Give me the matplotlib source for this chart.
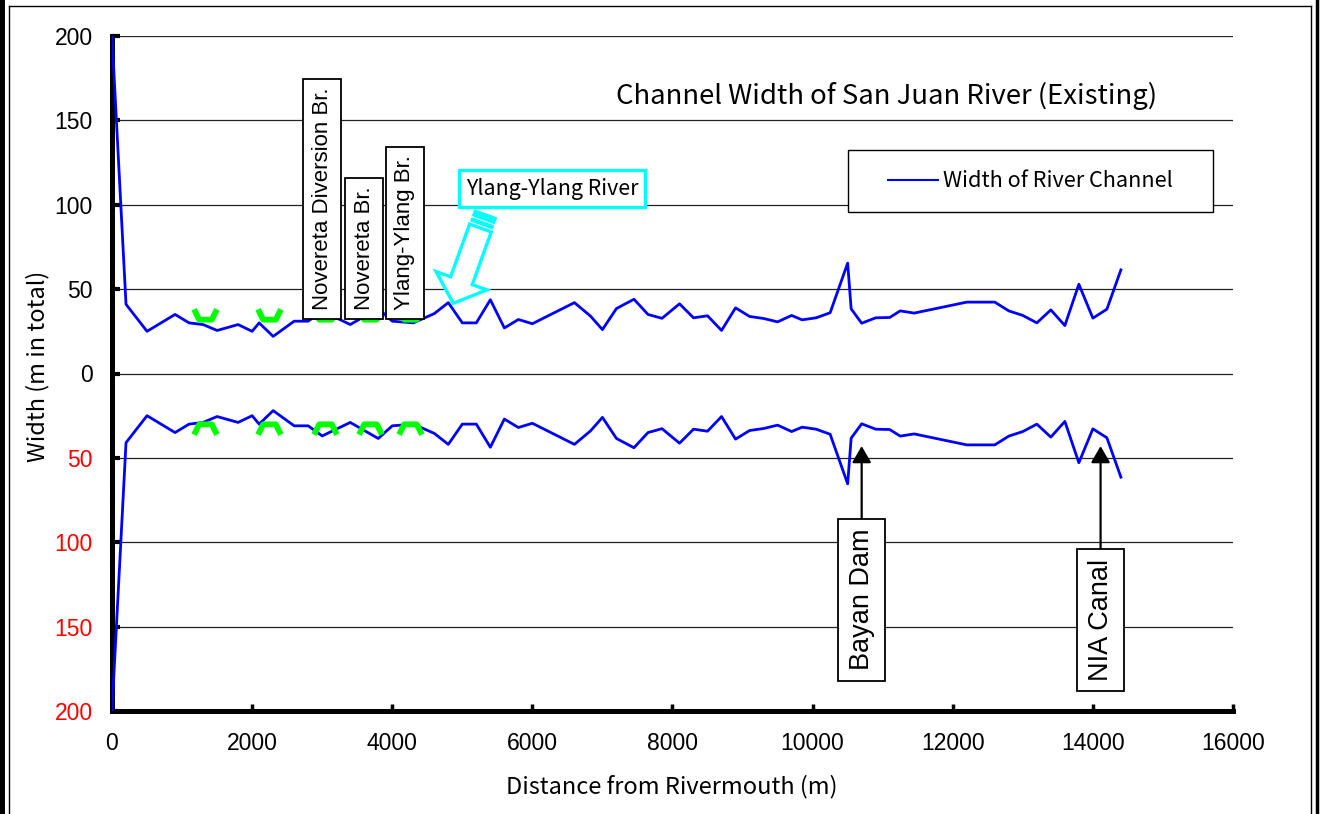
import numpy as np
import matplotlib
matplotlib.use("Agg")
import matplotlib.pyplot as plt
from matplotlib.path import Path
from matplotlib.patches import Rectangle, Polygon
from matplotlib.lines import Line2D

# ---------------- data ----------------
distance = [0, 200, 500, 700, 900, 1100, 1300, 1500, 1800, 2000, 2100, 2300, 2600, 2800,
            3000, 3400, 3800, 4000, 4300, 4600, 4800, 5000, 5200, 5400, 5600, 5800, 6000,
            6600, 6830, 7000, 7200, 7450, 7650, 7850, 8100, 8300, 8500, 8700, 8900, 9100,
            9300, 9500, 9700, 9850, 10050, 10250, 10500, 10550, 10700, 10900, 11100, 11250,
            11450, 12200, 12600, 12800, 13000, 13200, 13400, 13600, 13800, 14000, 14200, 14400]
half_width = [200, 41, 25, 30, 35, 30, 29, 25.5, 29, 25, 30, 22, 31, 31,
              37, 29, 38.5, 31, 30, 35.5, 42, 30, 30, 43.7, 27, 32, 29.5,
              42, 34, 26, 38.5, 44, 35, 32.7, 41.3, 33, 34.2, 25.5, 38.9, 33.8,
              32.6, 30.6, 34.4, 31.8, 33, 36, 65.4, 38.3, 29.8, 33, 33.2, 37.1,
              35.8, 42.3, 42.3, 37.1, 34.4, 30, 37.7, 28.4, 52.9, 32.8, 38.1, 61.4]

bridge_x = [1330, 2240, 3040, 3680, 4260]
bridge_upper = [35.5, 35.5, 35.5, 35.5, 35.5]
bridge_lower = [-33, -33, -33, -33, -33]

bridge_labels = ["Novereta Diversion Br.", "Novereta Br.", "Ylang-Ylang Br."]
bridge_label_x = [3000, 3600, 4180]

dam_labels = ["Bayan Dam", "NIA Canal"]
dam_x = [10700, 14110]
dam_tip_y = [-43, -43]
dam_box_y = [-134, -146]

yticks = [-200, -150, -100, -50, 0, 50, 100, 150, 200]
xticks = [0, 2000, 4000, 6000, 8000, 10000, 12000, 14000, 16000]

W, H = 1328, 814
fig = plt.figure(figsize=(W / 100, H / 100), dpi=100)
ax = fig.add_axes([112 / W, 1 - 711 / H, (1233 - 112) / W, (711 - 36) / H])

TICKFONT = "Liberation Sans"
JFONT = ["Noto Sans CJK JP", "DejaVu Sans"]

dist = np.array(distance)
hw = np.array(half_width)
ax.plot(dist, hw, color="#0000FF", lw=2.0, zorder=3, label="Width of River Channel")
ax.plot(dist, -hw, color="#0000FF", lw=2.0, zorder=3)

# bridge markers (green brackets)
u_path = Path([(-1, 0.45), (-0.55, -0.45), (0.55, -0.45), (1, 0.45)],
              [Path.MOVETO, Path.LINETO, Path.LINETO, Path.LINETO])
n_path = Path([(-1, -0.45), (-0.55, 0.45), (0.55, 0.45), (1, -0.45)],
              [Path.MOVETO, Path.LINETO, Path.LINETO, Path.LINETO])
ax.plot(bridge_x, bridge_upper, ls="none", marker=u_path, ms=16.5, mfc="none",
        mec="#00FF00", mew=4.2, zorder=4)
ax.plot(bridge_x, bridge_lower, ls="none", marker=n_path, ms=16.5, mfc="none",
        mec="#00FF00", mew=4.2, zorder=4)

ax.set_xlim(0, 16000)
ax.set_ylim(-200, 200)
ax.set_yticks(yticks)
ax.set_yticklabels([str(abs(v)) for v in yticks], fontfamily=TICKFONT, fontsize=16.5)
for lab, v in zip(ax.get_yticklabels(), yticks):
    lab.set_color("red" if v < 0 else "black")
ax.set_xticks(xticks)
ax.set_xticklabels([str(v) for v in xticks], fontfamily=TICKFONT, fontsize=16.5)

ax.tick_params(axis="y", direction="in", length=6, width=3, pad=14)
ax.tick_params(axis="x", direction="in", length=5, width=2.5, pad=15)
for s in ["top", "right"]:
    ax.spines[s].set_visible(False)
for s in ["left", "bottom"]:
    ax.spines[s].set_linewidth(3.6)
    ax.spines[s].set_color("black")
ax.yaxis.grid(True, color="#222222", lw=0.9, zorder=0)
ax.set_axisbelow(True)

ax.set_xlabel("Distance from Rivermouth (m)", family=JFONT, fontsize=17)
ax.xaxis.set_label_coords(0.4996, -0.1126)
ax.xaxis.label.set_va("center")
ax.set_ylabel("Width (m in total)", family=JFONT, fontsize=17)
ax.yaxis.set_label_coords(-0.066, 0.51)
ax.yaxis.label.set_va("center")

ax.text(0.6914, 0.911, "Channel Width of San Juan River (Existing)", transform=ax.transAxes,
        ha="center", va="center", family=JFONT, fontsize=19.8)

# legend box
ax.add_patch(Rectangle((0.6566, 0.739), 0.3254, 0.092, transform=ax.transAxes,
                       facecolor="white", edgecolor="black", lw=1.0, zorder=6))
leg_handle = Line2D([], [], color="#0000FF", lw=1.5)
leg = ax.legend([leg_handle], ["Width of River Channel"], loc="center",
                bbox_to_anchor=(0.6566 + 0.3254 / 2, 0.739 + 0.046), frameon=False,
                prop={"family": JFONT, "size": 15.6}, handlelength=2.3, handletextpad=0.2)
leg.set_zorder(7)

# bridge labels
for lbl, bx in zip(bridge_labels, bridge_label_x):
    ax.text(bx, 37.5, lbl, rotation=90, ha="center", va="bottom", fontfamily=TICKFONT,
            fontsize=16, zorder=8,
            bbox=dict(boxstyle="square,pad=0.38", fc="white", ec="black", lw=1.3))

# dam / canal annotations
for lbl, dx, ty, by in zip(dam_labels, dam_x, dam_tip_y, dam_box_y):
    ax.annotate(lbl, xy=(dx, ty), xytext=(dx, by), rotation=90, ha="center", va="center",
                fontfamily=TICKFONT, fontsize=19.5, zorder=8,
                bbox=dict(boxstyle="square,pad=0.38", fc="white", ec="black", lw=1.3),
                arrowprops=dict(arrowstyle="-|>,head_length=0.5,head_width=0.29",
                                mutation_scale=20, color="black", lw=1.6,
                                shrinkA=0, shrinkB=0))

# Ylang-Ylang River label
ax.text(6280, 109.6, "Ylang-Ylang River", ha="center", va="center", family=JFONT,
        fontsize=15.4, zorder=8,
        bbox=dict(boxstyle="square,pad=0.33", fc="white", ec="#00FFFF", lw=2.4))


# hollow cyan striped arrow (figure pixel geometry)
def fp(x, y):
    return (x / W, 1 - y / H)


tip = np.array([453.3, 303.3])
tail = np.array([485.5, 214.0])
u = (tail - tip) / np.linalg.norm(tail - tip)
n = np.array([u[1], -u[0]])
hl, hh, sh, body_end = 24.0, 27.0, 11.5, 80.0
pts = [tip,
       tip + u * hl + n * hh,
       tip + u * hl + n * sh,
       tip + u * body_end + n * sh,
       tip + u * body_end - n * sh,
       tip + u * hl - n * sh,
       tip + u * hl - n * hh]
fig.add_artist(Polygon([fp(*p) for p in pts], closed=True, transform=fig.transFigure,
                       facecolor="white", edgecolor="#00FFFF", lw=2.4, zorder=9))
for s0, s1 in [(83.5, 86.5), (89.0, 95.0)]:
    stripe = [tip + u * s0 + n * sh, tip + u * s1 + n * sh,
              tip + u * s1 - n * sh, tip + u * s0 - n * sh]
    fig.add_artist(Polygon([fp(*p) for p in stripe], closed=True, transform=fig.transFigure,
                           facecolor="#00FFFF", edgecolor="#00FFFF", lw=1.0, zorder=9))

# outer chart-area frame
fig.add_artist(Rectangle((0, 0), 5 / W, 1, transform=fig.transFigure, fc="black",
                         ec="none", zorder=10))
fig.add_artist(Line2D([8.5 / W, 8.5 / W], [0, 1 - 6 / H], transform=fig.transFigure,
                      color="black", lw=1.0, zorder=10))
fig.add_artist(Line2D([8.5 / W, 1311 / W], [1 - 6 / H, 1 - 6 / H], transform=fig.transFigure,
                      color="black", lw=1.0, zorder=10))
fig.add_artist(Line2D([1311 / W, 1311 / W], [0, 1 - 6 / H], transform=fig.transFigure,
                      color="black", lw=1.0, zorder=10))
fig.add_artist(Line2D([1317 / W, 1317 / W], [0, 1], transform=fig.transFigure,
                      color="black", lw=2.5, zorder=10))

fig.savefig("out.png", dpi=100)
